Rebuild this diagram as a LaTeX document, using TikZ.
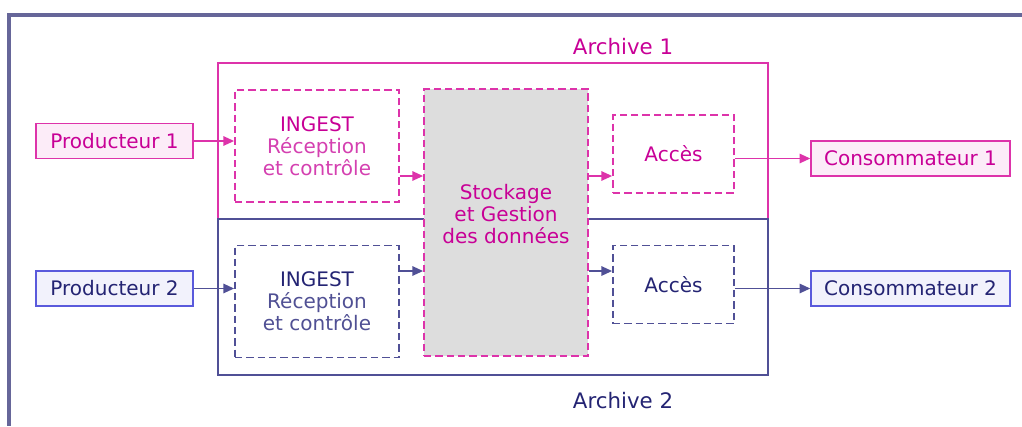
\documentclass[tikz,border=0pt]{standalone}
\usepackage{fontspec}
\setmainfont{DejaVu Sans}
\usepackage{tikz}
\usetikzlibrary{backgrounds}
\usetikzlibrary{arrows.meta}
\definecolor{magline}{RGB}{221,51,170}
\definecolor{magtext}{RGB}{200,0,150}
\definecolor{magsoft}{RGB}{212,64,176}
\definecolor{magfill}{RGB}{252,236,248}
\definecolor{navyline}{RGB}{80,80,150}
\definecolor{navytext}{RGB}{36,36,115}
\definecolor{navysoft}{RGB}{80,80,148}
\definecolor{blueline}{RGB}{90,90,220}
\definecolor{bluefill}{RGB}{242,242,252}
\definecolor{stockfill}{RGB}{221,221,221}
\definecolor{framecol}{RGB}{102,102,153}

\begin{document}
\begin{tikzpicture}[
            x = 0.75pt, y = -0.75pt, % one unit is one pixel
            > = {Triangle[length=8pt, width=7pt]}, % arrow head style
            font = \fontsize{15}{16.5}\selectfont, % text size
            line width = 1pt % line style
        ]

        \tikzstyle{box}=[
            draw,
            rectangle,
            align = center,
            inner sep = 0pt
        ]
        \tikzstyle{actor}=[box, minimum width = 117.75pt, minimum height = 26.25pt]
        \tikzstyle{consumer}=[box, minimum width = 149.25pt, minimum height = 26.25pt]
        \tikzstyle{func}=[box, line width = 1.3pt, dash pattern = on 5.5pt off 3pt]
        \tikzstyle{ingest}=[func, minimum width = 123pt, minimum height = 84pt]
        \tikzstyle{access}=[func, minimum width = 90.75pt, minimum height = 58.5pt]
        \tikzstyle{archive}=[box, line width = 1.1pt, minimum width = 412.5pt, minimum height = 117pt]
        \tikzstyle{one}=[draw = magline, text = magtext]
        \tikzstyle{two}=[draw = navyline, text = navytext]
        \tikzstyle{flowone}=[->, draw = magline, line width = 1.2pt]
        \tikzstyle{flowtwo}=[->, draw = navyline, line width = 1.2pt]
        \tikzstyle{title}=[font = \fontsize{16}{18}\selectfont]

        \useasboundingbox (0,0) rectangle (1022,426);

        % frame and archives
        \begin{scope}[on background layer]
        \draw[framecol, line width = 2.3pt] (1022,15) -| (9,426);
        \node[archive, one] (A1) at (493,141) {};
        \node[archive, two] (A2) at (493,297) {};
        \end{scope}

        \node[title, text = magtext] (T1) at (623,47) {Archive 1};
        \node[title, text = navytext] (T2) at (623,401) {Archive 2};

        % producers
        \node[actor, one, fill = magfill] (P1) at (114.5,141) {Producteur 1};
        \node[actor, draw = blueline, text = navytext, fill = bluefill] (P2) at (114.5,288.5) {Producteur 2};

        % functions
        \node[ingest, one] (I1) at (317,146) {INGEST\\\textcolor{magsoft}{Réception}\\\textcolor{magsoft}{et contrôle}};
        \node[ingest, two] (I2) at (317,301.5) {INGEST\\\textcolor{navysoft}{Réception}\\\textcolor{navysoft}{et contrôle}};
        \node[func, draw = magline, fill = stockfill, minimum width = 123pt, minimum height = 200.25pt,
              label = {[text = magtext, align = center, yshift = 6.4pt]center:{Stockage\\et Gestion\\des données}}] (S) at (506,222.5) {};
        \node[access, one] (X1) at (673.5,154) {Accès};
        \node[access, two] (X2) at (673.5,284.5) {Accès};

        % consumers
        \node[consumer, one, fill = magfill] (C1) at (910.5,158.5) {Consommateur 1};
        \node[consumer, draw = blueline, text = navytext, fill = bluefill] (C2) at (910.5,288.5) {Consommateur 2};

        \draw[flowone] (P1) -- (P1 -| I1.west);
        \draw[flowone] (I1.east |- 0,176) -- (S.west |- 0,176);
        \draw[flowone] (S.east |- 0,176) -- (X1.west |- 0,176);
        \draw[flowone] (C1 -| X1.east) -- (C1);

        \draw[flowtwo] (P2) -- (P2 -| I2.west);
        \draw[flowtwo] (I2.east |- 0,271) -- (S.west |- 0,271);
        \draw[flowtwo] (S.east |- 0,271) -- (X2.west |- 0,271);
        \draw[flowtwo] (C2 -| X2.east) -- (C2);

\end{tikzpicture}
\end{document}
